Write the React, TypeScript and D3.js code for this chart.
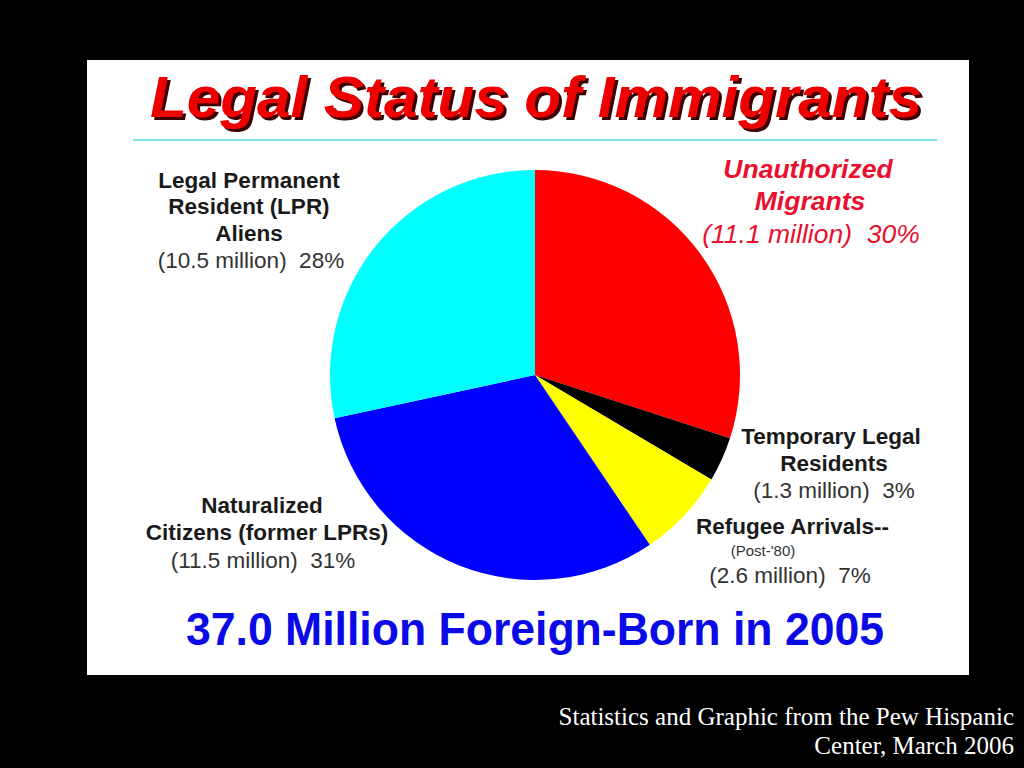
import { useEffect, useRef } from 'react'
import * as d3 from 'd3'

// slice data, clockwise from 12 o'clock
const categories = ['Unauthorized', 'Temporary', 'Refugee', 'Naturalized', 'LPR']
const millions = [11.1, 1.3, 2.6, 11.5, 10.5]
const percents = [30, 3, 7, 31, 28]
const sliceColors = ['#ff0000', '#000000', '#ffff00', '#0000ff', '#00ffff']

export default function App() {
  const svgRef = useRef<SVGSVGElement>(null)

  useEffect(() => {
    if (!svgRef.current) return
    const svg = d3.select(svgRef.current)
    svg.selectAll('*').remove()

    const width = 1024
    const height = 768
    const font = '"Liberation Sans", Arial, Helvetica, sans-serif'

    // drop shadow for the title
    svg.append('defs')
      .append('filter')
      .attr('id', 'titleShadow')
      .attr('x', '-5%').attr('y', '-20%')
      .attr('width', '110%').attr('height', '140%')
      .append('feDropShadow')
      .attr('dx', 3).attr('dy', 3)
      .attr('stdDeviation', 0.4)
      .attr('flood-color', '#3a0000')
      .attr('flood-opacity', 1)

    // black slide background
    svg.append('rect').attr('width', width).attr('height', height).attr('fill', '#000')

    // white chart panel
    svg.append('rect')
      .attr('x', 87).attr('y', 60)
      .attr('width', 882).attr('height', 615)
      .attr('fill', '#fff')

    svg.append('text')
      .attr('x', 536).attr('y', 117)
      .attr('text-anchor', 'middle')
      .attr('font-family', font)
      .attr('font-weight', 'bold')
      .attr('font-style', 'italic')
      .attr('font-size', 57)
      .attr('textLength', 772)
      .attr('lengthAdjust', 'spacingAndGlyphs')
      .attr('fill', '#ee0000')
      .attr('filter', 'url(#titleShadow)')
      .text('Legal Status of Immigrants')

    svg.append('line')
      .attr('x1', 133).attr('x2', 937)
      .attr('y1', 140).attr('y2', 140)
      .attr('stroke', '#7fe3e6')
      .attr('stroke-width', 2)

    // pie
    const cx = 535
    const cy = 375
    const radius = 205
    const pie = d3.pie<number>().sort(null).value(d => d)
    const arc = d3.arc<d3.PieArcDatum<number>>().innerRadius(0).outerRadius(radius)
    const color = d3.scaleOrdinal<string, string>().domain(categories).range(sliceColors)

    svg.append('g')
      .attr('transform', `translate(${cx},${cy})`)
      .selectAll('path')
      .data(pie(millions))
      .join('path')
      .attr('d', arc)
      .attr('fill', (_, i) => color(categories[i]))

    const total = d3.sum(millions)
    const amt = (i: number) => `(${millions[i].toFixed(1)} million)\u00a0\u00a0${percents[i]}%`

    const label = (x: number, y: number, txt: string, opts: { size?: number; bold?: boolean; italic?: boolean; fill?: string; anchor?: string } = {}) => {
      svg.append('text')
        .attr('x', x).attr('y', y)
        .attr('text-anchor', opts.anchor ?? 'middle')
        .attr('font-family', font)
        .attr('font-size', opts.size ?? 22.5)
        .attr('font-weight', opts.bold ? 'bold' : 'normal')
        .attr('font-style', opts.italic ? 'italic' : 'normal')
        .attr('fill', opts.fill ?? '#1a1a1a')
        .text(txt)
    }

    // LPR
    label(249, 188, 'Legal Permanent', { bold: true })
    label(249, 214, 'Resident (LPR)', { bold: true })
    label(249, 241, 'Aliens', { bold: true })
    label(251, 268, amt(4), { fill: '#333' })

    // Unauthorized
    const red = '#e8102e'
    label(808, 178, 'Unauthorized', { bold: true, italic: true, size: 26.5, fill: red })
    label(810, 210, 'Migrants', { bold: true, italic: true, size: 26.5, fill: red })
    label(811, 243, amt(0), { italic: true, size: 26.5, fill: red })

    // Temporary
    label(831, 444, 'Temporary Legal', { bold: true })
    label(834, 471, 'Residents', { bold: true })
    label(834, 498, amt(1), { fill: '#333' })

    // Refugee
    label(696, 534, 'Refugee Arrivals--', { bold: true, anchor: 'start' })
    label(763, 556, "(Post-'80)", { size: 15, fill: '#333' })
    label(790, 583, amt(2), { fill: '#333' })

    // Naturalized
    label(262, 513, 'Naturalized', { bold: true })
    label(267, 540, 'Citizens (former LPRs)', { bold: true })
    label(263, 568, amt(3), { fill: '#333' })

    // total
    svg.append('text')
      .attr('x', 535).attr('y', 645)
      .attr('text-anchor', 'middle')
      .attr('font-family', font)
      .attr('font-weight', 'bold')
      .attr('font-size', 46)
      .attr('textLength', 698)
      .attr('lengthAdjust', 'spacingAndGlyphs')
      .attr('fill', '#0a0ae6')
      .text(`${total.toFixed(1)} Million Foreign-Born in 2005`)

    // source
    const src = ['Statistics and Graphic from the Pew Hispanic', 'Center, March 2006']
    src.forEach((s, i) => {
      svg.append('text')
        .attr('x', 1014).attr('y', 725 + i * 29)
        .attr('text-anchor', 'end')
        .attr('font-family', '"Liberation Serif", "DejaVu Serif", serif')
        .attr('font-size', 25)
        .attr('fill', '#fff')
        .text(s)
    })
  }, [])

  return (
    <svg
      ref={svgRef}
      width={1024}
      height={768}
      style={{ position: 'absolute', left: 0, top: 0, display: 'block' }}
    />
  )
}
